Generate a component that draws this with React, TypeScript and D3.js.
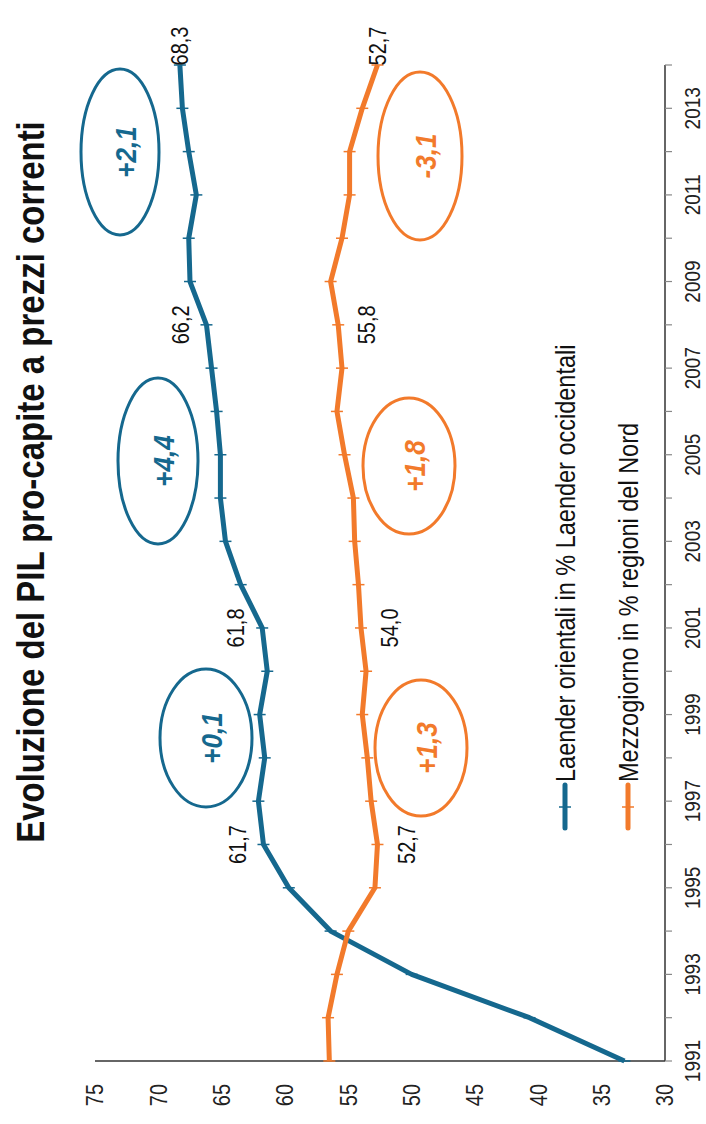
import React from 'react';
import * as d3 from 'd3';

// Years on the category axis (one point per year)
const years = [
  1991, 1992, 1993, 1994, 1995, 1996, 1997, 1998, 1999, 2000, 2001, 2002,
  2003, 2004, 2005, 2006, 2007, 2008, 2009, 2010, 2011, 2012, 2013, 2014,
];

// Eastern Länder GDP per capita as % of western Länder
const laender = [
  33.2, 40.7, 50.0, 56.4, 59.7, 61.7, 62.1, 61.6, 62.0, 61.4, 61.8, 63.5,
  64.7, 65.1, 65.1, 65.4, 65.8, 66.2, 67.5, 67.6, 67.0, 67.6, 68.1, 68.3,
];

// Mezzogiorno GDP per capita as % of northern regions
const mezzogiorno = [
  56.5, 56.6, 55.9, 55.0, 52.9, 52.7, 53.2, 53.5, 53.9, 53.6, 54.0, 54.2,
  54.5, 54.6, 55.3, 55.9, 55.5, 55.8, 56.4, 55.5, 54.9, 54.9, 53.9, 52.7,
];

const valueTicks = [30, 35, 40, 45, 50, 55, 60, 65, 70, 75];
const yearTickLabels = [1991, 1993, 1995, 1997, 1999, 2001, 2003, 2005, 2007, 2009, 2011, 2013];

const seriesNames = ['Laender orientali in % Laender occidentali', 'Mezzogiorno in % regioni del Nord'];

// Indices of the points whose value is printed
const labelledIdx = [5, 10, 17, 23];

// Change over each period, shown in ellipses
const changes = [
  { series: 0, text: '+0,1' },
  { series: 0, text: '+4,4' },
  { series: 0, text: '+2,1' },
  { series: 1, text: '+1,3' },
  { series: 1, text: '+1,8' },
  { series: 1, text: '-3,1' },
];

const TITLE = 'Evoluzione del PIL pro-capite a prezzi correnti';

const W = 706;
const H = 1124;
const BLUE = '#15688e';
const ORANGE = '#f27a2b';
const FONT = '"Liberation Sans", Arial, Helvetica, sans-serif';
const STRETCH = 1.15; // glyphs are drawn slightly tall

// ellipse geometry in the chart's own (unrotated) frame
const ellipseLayout = [
  { cx: 386, cy: 206, rx: 69, ry: 46 },
  { cx: 663, cy: 158, rx: 83, ry: 40 },
  { cx: 972, cy: 120, rx: 83, ry: 39 },
  { cx: 376, cy: 421, rx: 68, ry: 46 },
  { cx: 658, cy: 409, rx: 68, ry: 46 },
  { cx: 968, cy: 420, rx: 84, ry: 42 },
];

const fmt = (v: number) => v.toFixed(1).replace('.', ',');

type TProps = {
  x: number;
  y: number;
  children: React.ReactNode;
  dy?: string;
  [k: string]: any;
};

// Text anchored at (x, y) and stretched vertically about that point
function T({ x, y, children, dy, ...rest }: TProps) {
  return (
    <g transform={`translate(${x},${y}) scale(1,${STRETCH})`}>
      <text x={0} y={0} dy={dy} {...rest}>
        {children}
      </text>
    </g>
  );
}

export default function App() {
  // The chart is laid out in an unrotated frame (width H, height W) and turned 90° CCW.
  const x = d3.scaleLinear().domain([0, years.length - 1]).range([63, 1059]);
  const y = d3.scaleLinear().domain([30, 75]).range([665, 95]);

  const line = d3
    .line<number>()
    .x((_, i) => x(i))
    .y((d) => y(d));

  const series = [
    { values: laender, color: BLUE },
    { values: mezzogiorno, color: ORANGE },
  ];

  return (
    <svg
      width={W}
      height={H}
      style={{ position: 'absolute', left: 0, top: 0, background: '#fff' }}
      fontFamily={FONT}
    >
      <rect width={W} height={H} fill="#fff" />
      <g transform={`translate(0,${H}) rotate(-90)`}>
        {/* title */}
        <T x={642} y={44} textAnchor="middle" fontSize={33} fontWeight="bold" fill="#111">
          {TITLE}
        </T>

        {/* value axis */}
        <line x1={63} x2={63} y1={y(75)} y2={y(30)} stroke="#333" strokeWidth={1.5} />
        {valueTicks.map((v) => (
          <T key={v} x={40} y={y(v)} dy="0.36em" textAnchor="end" fontSize={20} fill="#222">
            {v}
          </T>
        ))}

        {/* year axis */}
        <line x1={x(0)} x2={x(years.length - 1)} y1={y(30)} y2={y(30)} stroke="#333" strokeWidth={1.5} />
        {years.map((yr, i) => (
          <line key={yr} x1={x(i)} x2={x(i)} y1={y(30)} y2={y(30) + 7} stroke="#888" strokeWidth={1.2} />
        ))}
        {yearTickLabels.map((yr) => (
          <T key={yr} x={x(years.indexOf(yr))} y={700} textAnchor="middle" fontSize={19} fill="#222">
            {yr}
          </T>
        ))}

        {/* period ellipses */}
        {changes.map((c, k) => {
          const e = ellipseLayout[k];
          const col = series[c.series].color;
          return (
            <g key={c.text}>
              <ellipse cx={e.cx} cy={e.cy} rx={e.rx} ry={e.ry} fill="none" stroke={col} strokeWidth={3} />
              <T
                x={e.cx}
                y={e.cy + 5}
                dy="0.36em"
                textAnchor="middle"
                fontSize={26}
                fontWeight="bold"
                fontStyle="italic"
                fill={col}
              >
                {c.text}
              </T>
            </g>
          );
        })}

        {/* series lines with point dashes */}
        {series.map((s, si) => (
          <g key={si}>
            <path
              d={line(s.values) || ''}
              fill="none"
              stroke={s.color}
              strokeWidth={5}
              strokeLinejoin="round"
            />
            {s.values.map((v, i) => (
              <line
                key={i}
                x1={x(i)}
                x2={x(i)}
                y1={y(v) - 6}
                y2={y(v) + 6}
                stroke={s.color}
                strokeWidth={1.5}
              />
            ))}
          </g>
        ))}

        {/* value labels */}
        {series.map((s, si) =>
          labelledIdx.map((i) => {
            const last = i === years.length - 1;
            const lx = last ? x(i) + 19 : x(i);
            const ly = last ? y(s.values[i]) : y(s.values[i]) + (si === 0 ? -26 : 29);
            return (
              <T key={`${si}-${i}`} x={lx} y={ly} dy="0.36em" textAnchor="middle" fontSize={20} fill="#111">
                {fmt(s.values[i])}
              </T>
            );
          })
        )}

        {/* legend */}
        {series.map((s, si) => {
          const ly = 565 + si * 63;
          return (
            <g key={si}>
              <line x1={296} x2={339} y1={ly} y2={ly} stroke={s.color} strokeWidth={5} strokeLinecap="round" />
              <line x1={317} x2={317} y1={ly - 6} y2={ly + 6} stroke={s.color} strokeWidth={1.5} />
              <T x={342} y={ly} dy="0.36em" fontSize={23.5} fill="#111">
                {seriesNames[si]}
              </T>
            </g>
          );
        })}
      </g>
    </svg>
  );
}
